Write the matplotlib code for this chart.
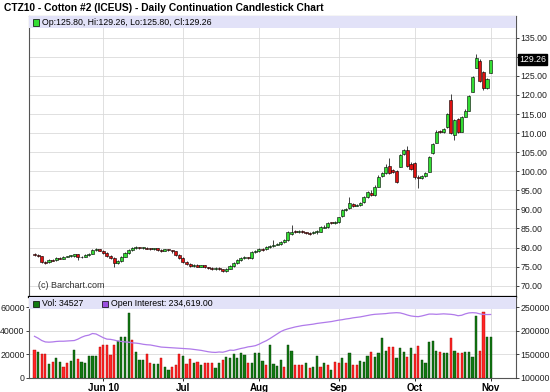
import numpy as np
import pandas as pd
import matplotlib
matplotlib.use("Agg")
import matplotlib.pyplot as plt
from matplotlib.patches import Rectangle

plt.rcParams['font.family'] = ['Liberation Sans', 'DejaVu Sans']

title = "CTZ10 - Cotton #2 (ICEUS) - Daily Continuation Candlestick Chart"

# trading days May 4 .. Nov 1 2010 (exchange holidays removed)
holidays = ['2010-05-31', '2010-07-05', '2010-09-06']
dates = pd.bdate_range('2010-05-04', '2010-11-01')
dates = dates[~dates.isin(pd.to_datetime(holidays))]

opens = [78.4, 78.0, 77.7, 76.2, 76.1, 76.8, 76.7, 77.2, 77.1, 77.6,
         77.7, 77.8, 78.2, 77.4, 77.6, 78.0, 78.4, 79.3, 79.5, 79.2,
         78.6, 77.8, 77.2, 76.0, 76.4, 77.6, 78.6, 79.4, 79.8, 80.0,
         79.9, 80.0, 79.7, 79.6, 79.8, 79.4, 79.2, 79.5, 79.3, 79.0,
         78.0, 77.2, 76.3, 75.8, 75.2, 75.5, 75.0, 75.3, 74.8, 74.6,
         74.4, 74.7, 74.3, 73.9, 74.5, 75.2, 75.9, 76.7, 77.2, 77.4,
         77.3, 78.9, 79.1, 79.6, 79.5, 80.2, 80.3, 80.8, 81.0, 81.5,
         82.0, 83.6, 84.2, 84.0, 84.3, 84.0, 83.8, 83.7, 84.0, 84.2,
         85.2, 85.4, 86.6, 86.4, 86.6, 88.3, 89.8, 90.3, 91.3, 91.0,
         91.2, 91.9, 93.2, 94.4, 93.8, 96.0, 98.8, 99.6, 101.3, 100.4,
         100.1, 101.2, 104.5, 105.6, 101.9, 102.1, 98.6, 98.3, 98.8, 99.9,
         104.7, 107.5, 110.6, 110.3, 111.5, 118.7, 109.5, 113.7, 110.4, 114.3,
         115.9, 120.9, 127.2, 129.0, 126.1, 121.7, 125.8]
highs = [78.6, 78.2, 77.9, 76.5, 77.0, 77.0, 77.5, 77.4, 77.8, 77.9,
         78.1, 78.4, 78.4, 77.9, 78.2, 78.6, 79.5, 79.8, 79.7, 79.3,
         78.8, 78.0, 77.4, 76.7, 77.8, 78.8, 79.6, 80.1, 80.3, 80.2,
         80.2, 80.1, 79.9, 80.0, 79.9, 79.6, 79.7, 79.7, 79.4, 79.2,
         78.2, 77.4, 76.5, 76.0, 75.8, 75.7, 75.5, 75.5, 75.0, 74.8,
         74.9, 74.9, 74.5, 74.7, 75.4, 76.1, 76.9, 77.4, 77.7, 77.6,
         79.1, 79.4, 79.8, 79.8, 80.4, 80.6, 82.0, 81.3, 81.7, 82.3,
         84.3, 85.9, 84.5, 84.7, 84.5, 84.2, 84.0, 84.3, 84.5, 85.7,
         85.8, 86.8, 86.8, 86.9, 88.1, 90.1, 90.5, 93.2, 91.6, 91.4,
         91.9, 93.5, 94.9, 95.0, 96.3, 98.9, 99.9, 102.0, 103.4, 100.7,
         100.4, 104.6, 105.9, 106.5, 102.4, 102.4, 98.9, 99.1, 99.9, 104.1,
         107.5, 110.7, 110.9, 111.3, 115.3, 120.3, 113.7, 113.9, 114.6, 116.2,
         120.0, 125.1, 130.7, 129.3, 126.4, 124.5, 129.26]
lows = [77.8, 77.4, 75.9, 75.7, 75.9, 76.4, 76.5, 76.9, 76.9, 77.4,
        77.5, 77.6, 76.8, 77.2, 77.4, 77.8, 78.2, 79.1, 79.0, 78.4,
        77.5, 77.0, 75.0, 75.8, 76.2, 77.4, 78.4, 79.2, 79.6, 79.7,
        79.7, 79.5, 79.3, 79.4, 79.0, 78.9, 79.0, 79.0, 78.7, 77.8,
        77.0, 76.0, 75.5, 74.9, 75.0, 74.8, 74.8, 74.6, 74.3, 74.2,
        74.2, 74.0, 73.6, 73.7, 74.3, 75.0, 75.7, 76.5, 77.0, 77.0,
        77.1, 78.7, 78.9, 79.2, 79.3, 80.0, 80.1, 80.6, 80.8, 81.3,
        81.8, 83.4, 83.8, 83.8, 83.7, 83.5, 83.3, 83.5, 83.5, 84.0,
        85.0, 85.2, 86.1, 86.2, 86.4, 88.1, 89.6, 90.1, 90.6, 90.8,
        91.0, 91.7, 93.0, 93.5, 93.6, 95.8, 98.6, 99.4, 99.2, 99.5,
        97.0, 101.0, 104.2, 101.1, 100.3, 98.1, 95.5, 98.1, 98.5, 99.7,
        104.5, 107.3, 110.0, 110.1, 111.3, 109.8, 108.2, 110.1, 110.2, 114.1,
        115.7, 120.7, 127.0, 123.4, 121.4, 121.5, 125.8]
closes = [78.0, 77.7, 76.2, 76.0, 76.8, 76.6, 77.3, 77.1, 77.6, 77.7,
          77.9, 78.2, 77.4, 77.6, 78.0, 78.4, 79.3, 79.5, 79.2, 78.6,
          77.8, 77.2, 76.0, 76.4, 77.6, 78.6, 79.4, 79.8, 80.0, 79.9,
          80.0, 79.7, 79.6, 79.8, 79.4, 79.2, 79.5, 79.3, 79.0, 78.0,
          77.2, 76.3, 75.8, 75.2, 75.5, 75.0, 75.3, 74.8, 74.6, 74.4,
          74.7, 74.3, 73.9, 74.5, 75.2, 75.9, 76.7, 77.2, 77.4, 77.3,
          78.9, 79.1, 79.6, 79.4, 80.2, 80.3, 80.8, 81.0, 81.5, 82.0,
          84.0, 84.2, 84.0, 84.4, 84.0, 83.8, 83.6, 84.0, 84.2, 85.4,
          85.4, 86.5, 86.4, 86.6, 87.9, 89.8, 90.2, 91.6, 90.9, 91.1,
          91.6, 93.2, 94.6, 93.8, 96.0, 98.6, 99.6, 101.1, 99.5, 99.8,
          97.3, 104.3, 105.6, 101.4, 100.6, 98.4, 98.3, 98.8, 99.6, 103.8,
          107.1, 110.4, 110.3, 111.0, 115.0, 110.0, 113.4, 110.4, 114.3, 115.9,
          119.7, 124.8, 129.6, 123.7, 121.7, 124.2, 129.26]

volume = [23400, 22000, 20500, 20500, 11400, 13400, 16300, 13400, 9100, 12000,
          14300, 23400, 15400, 13400, 12000, 18600, 18300, 18600, 26200, 27700,
          27700, 19100, 27700, 31200, 34300, 34800, 54800, 32000, 21700, 14800,
          14800, 20500, 12600, 11400, 11400, 16300, 9100, 6300, 9100, 10600,
          19700, 18600, 11400, 15400, 12500, 13400, 10500, 12000, 12000, 12500,
          8200, 12000, 14800, 17100, 16800, 20000, 16800, 20600, 19100, 12000,
          12000, 21100, 20600, 14000, 10500, 27400, 11400, 9900, 14800, 9100,
          27700, 22800, 10500, 10500, 10500, 12000, 8200, 9100, 18300, 9100,
          12500, 10500, 6300, 13100, 12000, 16300, 12000, 20600, 10500, 10500,
          14000, 13400, 18300, 22000, 17100, 21100, 34000, 22800, 25700, 26300,
          16300, 24900, 22000, 17700, 24900, 20000, 27100, 14800, 12000, 30600,
          31100, 22800, 21400, 20600, 20600, 34000, 22800, 21100, 20600, 22000,
          22000, 17100, 52600, 22800, 56300, 34300, 34527]
# g = up volume bar, r = down volume bar
vol_dir = ("rgrrgrggrr" "ggrgggggrr" "rrrggggrgg" "grrggrggrr" "rgrrgrgrrr"
           "ggrggggggr" "ggggrggggr" "ggrrrgrggr" "grgrrgrgrr" "gggrggggrr"
           "gggrgrrggg" "ggrggrgrrg" "gggrr" "gg")

open_interest = [188000, 184000, 179000, 176000, 175500, 176000, 177000, 177500, 177500, 178000,
                 178500, 179000, 182000, 186000, 189000, 190500, 194000, 193000, 189000, 185000,
                 182000, 181500, 180000, 178000, 177000, 176000, 175500, 174000, 173500, 172500,
                 171000, 170000, 169500, 168000, 166500, 165000, 164500, 164000, 163500, 163000,
                 162500, 162000, 161500, 161000, 160000, 159000, 158000, 156500, 155000, 154000,
                 153600, 154500, 154000, 156000, 158500, 158000, 160000, 162000, 163500, 165500,
                 166500, 168000, 171000, 175000, 178500, 183000, 188000, 193000, 198000, 201500,
                 204000, 206000, 208000, 209500, 211000, 212000, 213000, 214000, 215500, 216500,
                 217500, 218500, 219500, 221000, 222500, 223500, 225000, 226000, 227500, 228500,
                 229500, 231000, 232500, 234000, 235000, 235500, 236000, 236500, 237500, 238000,
                 238500, 238000, 236000, 233500, 231500, 230500, 230000, 231500, 233500, 235500,
                 235500, 235000, 235500, 236000, 235500, 235000, 234000, 232000, 233000, 236000,
                 238000, 238500, 238000, 236000, 234800, 234500, 234619]

price_ticks = [70, 75, 80, 85, 90, 95, 100, 105, 110, 115, 120, 125, 130, 135]
# the 130 label is covered by the last-price marker on the original
price_labels = ['' if p == 130 else f"{p:.2f}" for p in price_ticks]
vol_ticks = [0, 20000, 40000, 60000]
oi_ticks = [100000, 150000, 200000, 250000]

W, H = 550, 392
fig = plt.figure(figsize=(W / 100, H / 100), dpi=100)
fig.patch.set_facecolor('white')

L, R = 29, 516
ax = fig.add_axes([L / W, 1 - 297 / H, (R - L) / W, 281 / H])
axv = fig.add_axes([L / W, 1 - 377.5 / H, (R - L) / W, 80.5 / H])
axoi = axv.twinx()

o = np.array(opens); c = np.array(closes)
hi = np.array(highs); lo = np.array(lows)
x = np.arange(len(dates))
up = c >= o

# month gridlines
months = [i for i in range(len(dates)) if i == 0 or dates[i].month != dates[i - 1].month][1:]
mlabels = [dates[i].strftime('%b') for i in months]
mlabels[0] = mlabels[0] + ' 10'

grid_c = '#DADADA'
xlim = (-1.52, 133.0)
tick_kw = dict(direction='out', length=2, width=0.6, labelsize=6.3, pad=1.2, colors='#222222')

# --- price panel ---
ax.vlines(x, lo, hi, color='#222222', lw=0.6, zorder=2)
ax.bar(x, np.maximum(np.abs(c - o), 0.25), bottom=np.minimum(o, c), width=0.85,
       color=np.where(up, '#33DD33', '#DD1111'), edgecolor='black', lw=0.4, zorder=3)
ax.set_xlim(xlim)
ax.set_ylim(67.04, 140.7)
ax.set_xticks(months)
ax.set_xticklabels([])
ax.tick_params(axis='x', length=0)
ax.set_yticks(price_ticks)
ax.set_yticklabels(price_labels)
ax.yaxis.tick_right()
ax.tick_params(axis='y', **tick_kw)
ax.grid(True, color=grid_c, lw=0.6)
ax.set_axisbelow(True)
for s in ['left', 'right', 'top']:
    ax.spines[s].set_color('#555555')
    ax.spines[s].set_linewidth(0.8)
ax.spines['bottom'].set_color('black')
ax.spines['bottom'].set_linewidth(1.6)

band = 12 / 281
ax.add_patch(Rectangle((0, 1 - band), 1, band, transform=ax.transAxes,
                       facecolor='#E2E2F8', edgecolor='none', zorder=4))
ax.add_patch(Rectangle((4 / 487, 1 - 9.5 / 281), 6 / 487, 6 / 281, transform=ax.transAxes,
                       facecolor='#33DD33', edgecolor='black', lw=0.5, zorder=5))
ax.text(13 / 487, 1 - 6.3 / 281, "Op:125.80, Hi:129.26, Lo:125.80, Cl:129.26",
        transform=ax.transAxes, fontsize=6.3, va='center', ha='left', zorder=6)
ax.text(9 / 487, 12 / 281, "(c) Barchart.com", transform=ax.transAxes,
        fontsize=6.5, color='#333333', va='center', ha='left')
ax.text(1 + 3 / 487, closes[-1], f"{closes[-1]:.2f}", transform=ax.get_yaxis_transform(),
        fontsize=6.3, color='white', va='center', ha='left', zorder=7,
        bbox=dict(boxstyle='square,pad=0.12', facecolor='black', edgecolor='black'))

fig.text(4 / W, 1 - 8 / H, title, fontsize=7.4, fontweight='bold', va='center', ha='left')

# --- volume / open interest panel ---
vcol = ['#127A12' if d == 'g' else '#FF2626' for d in vol_dir]
vedge = ['#063806' if d == 'g' else '#B00000' for d in vol_dir]
axv.bar(x, volume, width=0.6, color=vcol, edgecolor=vedge, lw=0.3, zorder=3)
axv.set_xlim(xlim)
axv.set_ylim(0, 68800)
axv.set_yticks(vol_ticks)
axv.set_yticklabels([str(v) for v in vol_ticks])
axv.tick_params(axis='y', **tick_kw)
axv.set_xticks(months)
axv.set_xticklabels(mlabels, fontweight='bold', fontsize=7)
axv.tick_params(axis='x', length=2, width=0.6, pad=2)
axv.grid(True, color=grid_c, lw=0.6)
axv.set_axisbelow(True)
for s in ['left', 'right', 'bottom']:
    axv.spines[s].set_color('#555555')
    axv.spines[s].set_linewidth(0.8)
axv.spines['top'].set_visible(False)

axoi.plot(x, open_interest, color='#B07AEA', lw=0.9, zorder=4)
axoi.set_ylim(100000, 272000)
axoi.set_yticks(oi_ticks)
axoi.set_yticklabels([str(v) for v in oi_ticks])
axoi.tick_params(axis='y', **tick_kw)
for s in axoi.spines.values():
    s.set_visible(False)

vband = 12 / 80.5
axoi.add_patch(Rectangle((0, 1 - vband), 1, vband, transform=axoi.transAxes,
                         facecolor='#E2E2F8', edgecolor='none', zorder=5))
axoi.add_patch(Rectangle((4 / 487, 1 - 9.5 / 80.5), 6 / 487, 6 / 80.5, transform=axoi.transAxes,
                         facecolor='#127A12', edgecolor='black', lw=0.5, zorder=6))
axoi.text(13 / 487, 1 - 6.3 / 80.5, f"Vol: {volume[-1]}", transform=axoi.transAxes,
          fontsize=6.3, va='center', ha='left', zorder=7)
axoi.add_patch(Rectangle((73 / 487, 1 - 9.5 / 80.5), 6 / 487, 6 / 80.5, transform=axoi.transAxes,
                         facecolor='#9A4FE0', edgecolor='black', lw=0.5, zorder=6))
axoi.text(82 / 487, 1 - 6.3 / 80.5, f"Open Interest: {open_interest[-1]:,}.00", transform=axoi.transAxes,
          fontsize=6.3, va='center', ha='left', zorder=7)

fig.savefig('out.png', dpi=100)
